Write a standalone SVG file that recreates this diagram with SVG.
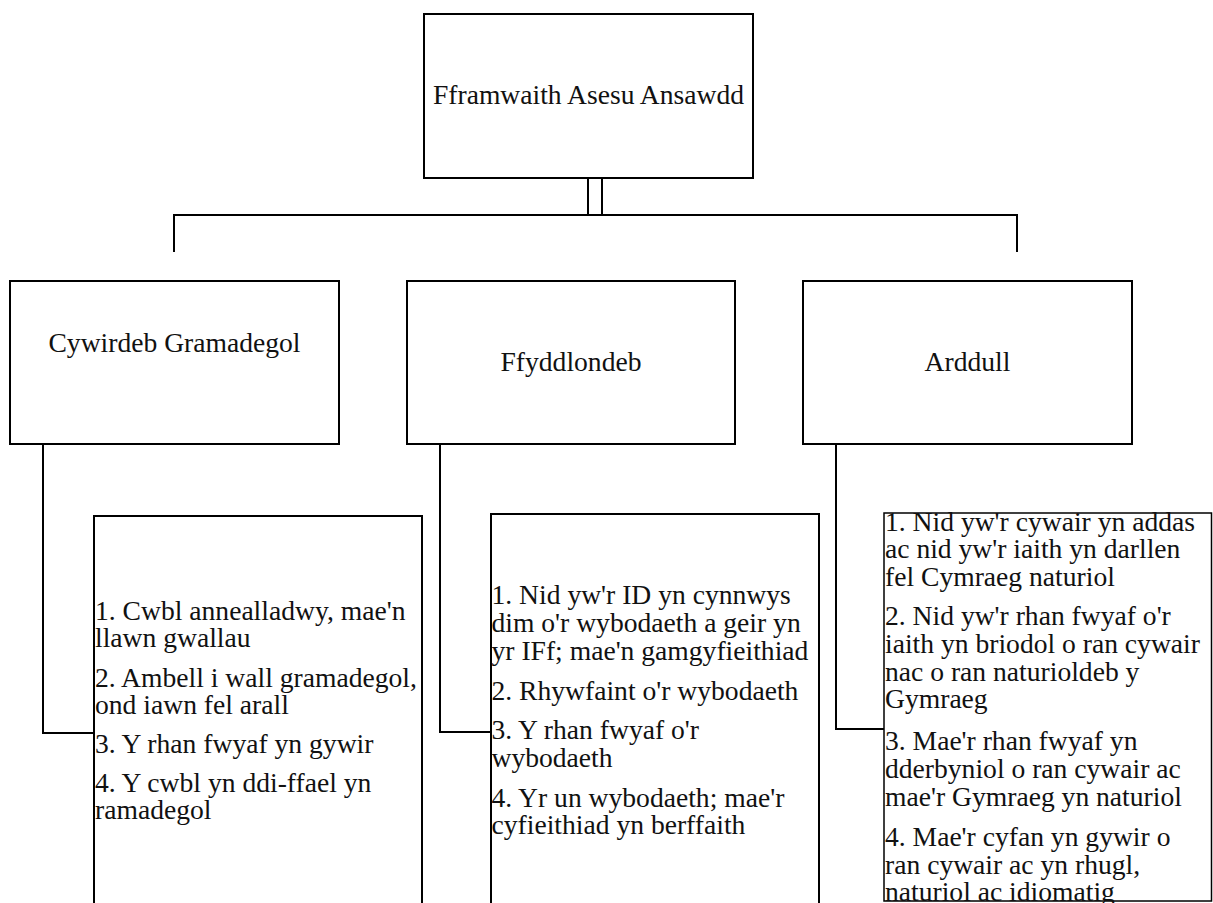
<svg xmlns="http://www.w3.org/2000/svg" width="1213" height="903" viewBox="0 0 1213 903">
<style>
.box{fill:#fff;stroke:#000;stroke-width:2}
.thin{fill:#fff;stroke:#000;stroke-width:1.5}
.lbl{font-family:"Liberation Serif","DejaVu Serif",serif;font-size:27.6px;fill:#111}
.mid{text-anchor:middle}
.con{fill:none;stroke:#000;stroke-width:2}
</style>
<rect width="1213" height="903" fill="#fff"/>
<g id="connectors">
<path class="con" d="M588 178V215M602 178V215"/>
<path class="con" d="M174 252V215H1017V252"/>
<path class="con" d="M43 444V733H94"/>
<path class="con" d="M440 444V732H491"/>
<path class="con" d="M836 444V729H884"/>
</g>
<g id="node-top">
<rect class="box" x="424" y="14" width="329" height="164"/>
<text class="lbl mid" x="588.5" y="104">Fframwaith Asesu Ansawdd</text>
</g>
<g id="node-cywirdeb">
<rect class="box" x="10" y="281" width="329" height="163"/>
<text class="lbl mid" x="174.5" y="352">Cywirdeb Gramadegol</text>
</g>
<g id="node-ffyddlondeb">
<rect class="box" x="407" y="281" width="328" height="163"/>
<text class="lbl mid" x="571" y="371">Ffyddlondeb</text>
</g>
<g id="node-arddull">
<rect class="box" x="803" y="281" width="329" height="163"/>
<text class="lbl mid" x="967.5" y="371">Arddull</text>
</g>
<g id="node-cywirdeb-levels">
<rect class="box" x="94" y="516" width="328" height="400"/>
<text class="lbl">
<tspan x="95" y="620">1. Cwbl annealladwy, mae'n</tspan>
<tspan x="95" y="647.3">llawn gwallau</tspan>
<tspan x="95" y="686.7">2. Ambell i wall gramadegol,</tspan>
<tspan x="95" y="714.2">ond iawn fel arall</tspan>
<tspan x="95" y="753.3">3. Y rhan fwyaf yn gywir</tspan>
<tspan x="95" y="791.7">4. Y cwbl yn ddi-ffael yn</tspan>
<tspan x="95" y="819.2">ramadegol</tspan>
</text>
</g>
<g id="node-ffyddlondeb-levels">
<rect class="box" x="491" y="514" width="328" height="400"/>
<text class="lbl">
<tspan x="491.5" y="604.3">1. Nid yw'r ID yn cynnwys</tspan>
<tspan x="491.5" y="632.2">dim o'r wybodaeth a geir yn</tspan>
<tspan x="491.5" y="660">yr IFf; mae'n gamgyfieithiad</tspan>
<tspan x="491.5" y="699.5">2. Rhywfaint o'r wybodaeth</tspan>
<tspan x="491.5" y="739.3">3. Y rhan fwyaf o'r</tspan>
<tspan x="491.5" y="766.7">wybodaeth</tspan>
<tspan x="491.5" y="806.7">4. Yr un wybodaeth; mae'r</tspan>
<tspan x="491.5" y="834">cyfieithiad yn berffaith</tspan>
</text>
</g>
<g id="node-arddull-levels">
<rect class="thin" x="884" y="513" width="327.5" height="388"/>
<text class="lbl">
<tspan x="885" y="530.7">1. Nid yw'r cywair yn addas</tspan>
<tspan x="885" y="558.3">ac nid yw'r iaith yn darllen</tspan>
<tspan x="885" y="586">fel Cymraeg naturiol</tspan>
<tspan x="885" y="625">2. Nid yw'r rhan fwyaf o'r</tspan>
<tspan x="885" y="652.8">iaith yn briodol o ran cywair</tspan>
<tspan x="885" y="680.5">nac o ran naturioldeb y</tspan>
<tspan x="885" y="708.3">Gymraeg</tspan>
<tspan x="885" y="750">3. Mae'r rhan fwyaf yn</tspan>
<tspan x="885" y="778">dderbyniol o ran cywair ac</tspan>
<tspan x="885" y="806">mae'r Gymraeg yn naturiol</tspan>
<tspan x="885" y="846">4. Mae'r cyfan yn gywir o</tspan>
<tspan x="885" y="873.5">ran cywair ac yn rhugl,</tspan>
<tspan x="885" y="901">naturiol ac idiomatig</tspan>
</text>
</g>
</svg>
